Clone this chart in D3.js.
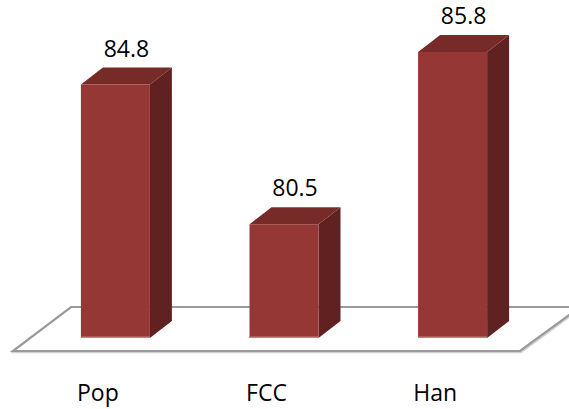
<!DOCTYPE html>
<html>
<head>
<meta charset="utf-8">
<script src="https://cdn.jsdelivr.net/npm/d3@7"></script>
<style>
  body { margin: 0; background: #fff; }
  svg { display: block; font-family: "Open Sans", sans-serif; }
</style>
</head>
<body>
<div class="chart"></div>
<script>
const categories = ["Pop", "FCC", "Han"];
const values = [84.8, 80.5, 85.8];
const yDomain = [77, 86];

const width = 569;
const height = 409;
const barWidth = 69;
const depthX = 22;
const depthY = -17;

const xScale = d3.scalePoint().domain(categories).range([115.4, 452.6]);
const yScale = d3.scaleLinear().domain(yDomain).range([338, 45.5]);
const base = yScale(yDomain[0]);

const chart = d3
  .select(".chart")
  .append("svg")
  .attr("width", width)
  .attr("height", height);

// floor
const floor = [
  [71, 307],
  [580, 307],
  [520, 351],
  [13, 351],
];
chart
  .append("polygon")
  .attr("points", floor.map((p) => [p[0] + 1, p[1] + 1].join(",")).join(" "))
  .attr("fill", "none")
  .attr("stroke", "#d4d4d4")
  .attr("stroke-width", 2.5);
chart
  .append("polygon")
  .attr("points", floor.map((p) => p.join(",")).join(" "))
  .attr("fill", "#fff")
  .attr("stroke", "#9a9a9a")
  .attr("stroke-width", 2.2);

const bars = chart
  .selectAll(".bar")
  .data(categories.map((c, i) => ({ cat: c, value: values[i] })))
  .enter()
  .append("g")
  .attr("class", "bar");

function left(d) {
  return xScale(d.cat) - barWidth / 2;
}

// side face
bars
  .append("polygon")
  .attr("points", (d) => {
    const xr = left(d) + barWidth;
    const yt = yScale(d.value);
    return [
      [xr, yt],
      [xr + depthX, yt + depthY],
      [xr + depthX, base + depthY],
      [xr, base],
    ].join(" ");
  })
  .attr("fill", "#5f2221");

// top face
bars
  .append("polygon")
  .attr("points", (d) => {
    const xl = left(d);
    const yt = yScale(d.value);
    return [
      [xl, yt],
      [xl + depthX, yt + depthY],
      [xl + barWidth + depthX, yt + depthY],
      [xl + barWidth, yt],
    ].join(" ");
  })
  .attr("fill", "#762b29");

// front face
bars
  .append("rect")
  .attr("x", (d) => left(d))
  .attr("y", (d) => yScale(d.value))
  .attr("width", barWidth)
  .attr("height", (d) => base - yScale(d.value))
  .attr("fill", "#953735");

bars
  .append("rect")
  .attr("x", (d) => left(d))
  .attr("y", base - 1.5)
  .attr("width", barWidth)
  .attr("height", 1.5)
  .attr("fill", "#d07a78");

// value labels
bars
  .append("text")
  .attr("x", (d) => xScale(d.cat) + depthX / 2)
  .attr("y", (d) => yScale(d.value) - 28)
  .attr("text-anchor", "middle")
  .attr("font-size", "23px")
  .attr("fill", "#000")
  .text((d) => d.value.toFixed(1));

// category labels
chart
  .selectAll(".cat")
  .data(categories)
  .enter()
  .append("text")
  .attr("class", "cat")
  .attr("x", (d) => xScale(d) - 17.5)
  .attr("y", 401)
  .attr("text-anchor", "middle")
  .attr("font-size", "23px")
  .attr("fill", "#000")
  .text((d) => d);
</script>
</body>
</html>
